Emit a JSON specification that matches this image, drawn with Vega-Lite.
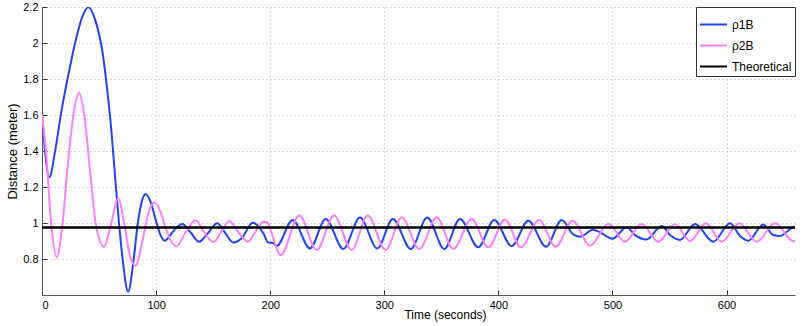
{
  "$schema": "https://vega.github.io/schema/vega-lite/v6.json",
  "width": 753,
  "height": 288,
  "autosize": {"type": "none"},
  "padding": {"left": 42, "top": 7, "right": 15, "bottom": 31},
  "background": "white",
  "config": {
    "font": "Liberation Sans",
    "view": {"stroke": null},
    "axis": {
      "domainColor": "#555555",
      "domainWidth": 1,
      "tickColor": "#333333",
      "tickSize": -5,
      "labelFont": "Liberation Sans",
      "labelFontSize": 11,
      "labelColor": "#000000",
      "titleFont": "Liberation Sans",
      "titleFontWeight": "normal",
      "titleColor": "#000000",
      "gridColor": "#b4b4b4",
      "gridDash": [1, 3],
      "gridWidth": 1
    },
    "legend": {
      "strokeColor": "#333333",
      "fillColor": "white",
      "padding": 3,
      "rowPadding": -7,
      "labelFont": "Liberation Sans",
      "labelFontSize": 12,
      "labelColor": "#000000",
      "labelOffset": 4,
      "symbolType": "stroke",
      "symbolSize": 729,
      "symbolStrokeWidth": 2
    }
  },
  "datasets": {
    "curves": [
      {"t": 0, "d": 1.611, "s": "ρ1B"},
      {"t": 6.4, "d": 1.254, "s": "ρ1B"},
      {"t": 11.5, "d": 1.4, "s": "ρ1B"},
      {"t": 17, "d": 1.62, "s": "ρ1B"},
      {"t": 23, "d": 1.82, "s": "ρ1B"},
      {"t": 29, "d": 2.0, "s": "ρ1B"},
      {"t": 35, "d": 2.14, "s": "ρ1B"},
      {"t": 40.6, "d": 2.198, "s": "ρ1B"},
      {"t": 47, "d": 2.12, "s": "ρ1B"},
      {"t": 53, "d": 1.95, "s": "ρ1B"},
      {"t": 57, "d": 1.75, "s": "ρ1B"},
      {"t": 61, "d": 1.5, "s": "ρ1B"},
      {"t": 64.5, "d": 1.22, "s": "ρ1B"},
      {"t": 67.5, "d": 1.0, "s": "ρ1B"},
      {"t": 71, "d": 0.78, "s": "ρ1B"},
      {"t": 75.5, "d": 0.618, "s": "ρ1B"},
      {"t": 80, "d": 0.78, "s": "ρ1B"},
      {"t": 84, "d": 1.0, "s": "ρ1B"},
      {"t": 87.5, "d": 1.12, "s": "ρ1B"},
      {"t": 90.9, "d": 1.161, "s": "ρ1B"},
      {"t": 95, "d": 1.12, "s": "ρ1B"},
      {"t": 100, "d": 1.01, "s": "ρ1B"},
      {"t": 104, "d": 0.93, "s": "ρ1B"},
      {"t": 107.8, "d": 0.902, "s": "ρ1B"},
      {"t": 113.7, "d": 0.944, "s": "ρ1B"},
      {"t": 118, "d": 0.975, "s": "ρ1B"},
      {"t": 123, "d": 0.995, "s": "ρ1B"},
      {"t": 130, "d": 0.95, "s": "ρ1B"},
      {"t": 137.6, "d": 0.896, "s": "ρ1B"},
      {"t": 145, "d": 0.94, "s": "ρ1B"},
      {"t": 153.7, "d": 0.998, "s": "ρ1B"},
      {"t": 160, "d": 0.95, "s": "ρ1B"},
      {"t": 167.7, "d": 0.891, "s": "ρ1B"},
      {"t": 175, "d": 0.915, "s": "ρ1B"},
      {"t": 184.7, "d": 1.002, "s": "ρ1B"},
      {"t": 194, "d": 0.943, "s": "ρ1B"},
      {"t": 198.4, "d": 0.891, "s": "ρ1B"},
      {"t": 202, "d": 0.89, "s": "ρ1B"},
      {"t": 205.7, "d": 0.872, "s": "ρ1B"},
      {"t": 219.7, "d": 1.017, "s": "ρ1B"},
      {"t": 234.9, "d": 0.859, "s": "ρ1B"},
      {"t": 248.7, "d": 1.022, "s": "ρ1B"},
      {"t": 264.1, "d": 0.856, "s": "ρ1B"},
      {"t": 278.7, "d": 1.03, "s": "ρ1B"},
      {"t": 293.9, "d": 0.859, "s": "ρ1B"},
      {"t": 307.5, "d": 1.022, "s": "ρ1B"},
      {"t": 323.2, "d": 0.856, "s": "ρ1B"},
      {"t": 337.7, "d": 1.03, "s": "ρ1B"},
      {"t": 352.6, "d": 0.856, "s": "ρ1B"},
      {"t": 366.4, "d": 1.022, "s": "ρ1B"},
      {"t": 382.4, "d": 0.865, "s": "ρ1B"},
      {"t": 396.4, "d": 1.017, "s": "ρ1B"},
      {"t": 411.7, "d": 0.872, "s": "ρ1B"},
      {"t": 426.3, "d": 1.013, "s": "ρ1B"},
      {"t": 441.8, "d": 0.868, "s": "ρ1B"},
      {"t": 455.5, "d": 1.017, "s": "ρ1B"},
      {"t": 465.7, "d": 0.937, "s": "ρ1B"},
      {"t": 471.6, "d": 0.924, "s": "ρ1B"},
      {"t": 483, "d": 0.962, "s": "ρ1B"},
      {"t": 489, "d": 0.948, "s": "ρ1B"},
      {"t": 500, "d": 0.913, "s": "ρ1B"},
      {"t": 512.5, "d": 0.976, "s": "ρ1B"},
      {"t": 519.8, "d": 0.933, "s": "ρ1B"},
      {"t": 530, "d": 0.909, "s": "ρ1B"},
      {"t": 543.2, "d": 0.983, "s": "ρ1B"},
      {"t": 550.4, "d": 0.933, "s": "ρ1B"},
      {"t": 559.2, "d": 0.906, "s": "ρ1B"},
      {"t": 572.4, "d": 0.994, "s": "ρ1B"},
      {"t": 588.4, "d": 0.896, "s": "ρ1B"},
      {"t": 603, "d": 0.998, "s": "ρ1B"},
      {"t": 611.8, "d": 0.928, "s": "ρ1B"},
      {"t": 619.1, "d": 0.902, "s": "ρ1B"},
      {"t": 632.2, "d": 0.992, "s": "ρ1B"},
      {"t": 641, "d": 0.933, "s": "ρ1B"},
      {"t": 646.9, "d": 0.928, "s": "ρ1B"},
      {"t": 658.5, "d": 0.976, "s": "ρ1B"},
      {"t": 660, "d": 0.977, "s": "ρ1B"},
      {"t": 0, "d": 1.6, "s": "ρ2B"},
      {"t": 3.5, "d": 1.4, "s": "ρ2B"},
      {"t": 8, "d": 1.0, "s": "ρ2B"},
      {"t": 12.9, "d": 0.809, "s": "ρ2B"},
      {"t": 18, "d": 1.0, "s": "ρ2B"},
      {"t": 23, "d": 1.35, "s": "ρ2B"},
      {"t": 28, "d": 1.62, "s": "ρ2B"},
      {"t": 32.4, "d": 1.724, "s": "ρ2B"},
      {"t": 37, "d": 1.6, "s": "ρ2B"},
      {"t": 42, "d": 1.3, "s": "ρ2B"},
      {"t": 47, "d": 1.0, "s": "ρ2B"},
      {"t": 54.3, "d": 0.868, "s": "ρ2B"},
      {"t": 60, "d": 0.98, "s": "ρ2B"},
      {"t": 66.9, "d": 1.137, "s": "ρ2B"},
      {"t": 72, "d": 1.0, "s": "ρ2B"},
      {"t": 77, "d": 0.82, "s": "ρ2B"},
      {"t": 82.1, "d": 0.763, "s": "ρ2B"},
      {"t": 88, "d": 0.9, "s": "ρ2B"},
      {"t": 93, "d": 1.05, "s": "ρ2B"},
      {"t": 98.4, "d": 1.115, "s": "ρ2B"},
      {"t": 104, "d": 1.06, "s": "ρ2B"},
      {"t": 108, "d": 0.98, "s": "ρ2B"},
      {"t": 113, "d": 0.9, "s": "ρ2B"},
      {"t": 118, "d": 0.872, "s": "ρ2B"},
      {"t": 126, "d": 0.95, "s": "ρ2B"},
      {"t": 134.8, "d": 1.015, "s": "ρ2B"},
      {"t": 142, "d": 0.95, "s": "ρ2B"},
      {"t": 150.2, "d": 0.893, "s": "ρ2B"},
      {"t": 157, "d": 0.95, "s": "ρ2B"},
      {"t": 164.2, "d": 1.011, "s": "ρ2B"},
      {"t": 172, "d": 0.95, "s": "ρ2B"},
      {"t": 180.3, "d": 0.896, "s": "ρ2B"},
      {"t": 187, "d": 0.95, "s": "ρ2B"},
      {"t": 194, "d": 1.007, "s": "ρ2B"},
      {"t": 198, "d": 1.0, "s": "ρ2B"},
      {"t": 201, "d": 0.95, "s": "ρ2B"},
      {"t": 209.2, "d": 0.822, "s": "ρ2B"},
      {"t": 225.5, "d": 1.041, "s": "ρ2B"},
      {"t": 240.8, "d": 0.85, "s": "ρ2B"},
      {"t": 256, "d": 1.041, "s": "ρ2B"},
      {"t": 271.4, "d": 0.85, "s": "ρ2B"},
      {"t": 285.5, "d": 1.041, "s": "ρ2B"},
      {"t": 301.2, "d": 0.85, "s": "ρ2B"},
      {"t": 315.3, "d": 1.03, "s": "ρ2B"},
      {"t": 330.7, "d": 0.856, "s": "ρ2B"},
      {"t": 345.9, "d": 1.03, "s": "ρ2B"},
      {"t": 360.5, "d": 0.856, "s": "ρ2B"},
      {"t": 376.6, "d": 1.022, "s": "ρ2B"},
      {"t": 391.2, "d": 0.865, "s": "ρ2B"},
      {"t": 405.8, "d": 1.02, "s": "ρ2B"},
      {"t": 419.8, "d": 0.865, "s": "ρ2B"},
      {"t": 435.6, "d": 1.017, "s": "ρ2B"},
      {"t": 450.3, "d": 0.868, "s": "ρ2B"},
      {"t": 465.1, "d": 1.013, "s": "ρ2B"},
      {"t": 480.3, "d": 0.874, "s": "ρ2B"},
      {"t": 496.4, "d": 0.996, "s": "ρ2B"},
      {"t": 511, "d": 0.896, "s": "ρ2B"},
      {"t": 525.6, "d": 0.994, "s": "ρ2B"},
      {"t": 540.2, "d": 0.896, "s": "ρ2B"},
      {"t": 554.8, "d": 0.994, "s": "ρ2B"},
      {"t": 568, "d": 0.9, "s": "ρ2B"},
      {"t": 582, "d": 0.998, "s": "ρ2B"},
      {"t": 595.8, "d": 0.896, "s": "ρ2B"},
      {"t": 611.2, "d": 0.998, "s": "ρ2B"},
      {"t": 626.4, "d": 0.896, "s": "ρ2B"},
      {"t": 642.5, "d": 0.998, "s": "ρ2B"},
      {"t": 658.5, "d": 0.9, "s": "ρ2B"},
      {"t": 660, "d": 0.9, "s": "ρ2B"}
    ],
    "theory": [
      {"t": 0, "d": 0.975, "s": "Theoretical"},
      {"t": 660, "d": 0.975, "s": "Theoretical"}
    ]
  },
  "layer": [
    {
      "data": {"name": "curves"},
      "mark": {"type": "line", "interpolate": "monotone", "strokeWidth": 2, "clip": true},
      "encoding": {
        "x": {
          "field": "t", "type": "quantitative",
          "scale": {"domain": [0, 660], "nice": false},
          "axis": {
            "values": [0, 100, 200, 300, 400, 500, 600],
            "title": "Time (seconds)",
            "titleFontSize": 12,
            "titleX": 403,
            "titleY": 23,
            "titleBaseline": "alphabetic",
            "titleAlign": "center",
            "labelPadding": 9,
            "grid": true
          }
        },
        "y": {
          "field": "d", "type": "quantitative",
          "scale": {"domain": [0.6, 2.2], "nice": false, "zero": false},
          "axis": {
            "values": [0.8, 1, 1.2, 1.4, 1.6, 1.8, 2, 2.2],
            "format": "~g",
            "title": "Distance (meter)",
            "titleFontSize": 13,
            "titleAngle": -90,
            "titleX": -30,
            "titleY": 144,
            "titleBaseline": "middle",
            "titleAlign": "center",
            "labelPadding": 9,
            "grid": true
          }
        },
        "color": {
          "field": "s", "type": "nominal",
          "scale": {"domain": ["ρ1B", "ρ2B", "Theoretical"], "range": ["#2343f5", "#ff80ff", "#000000"]},
          "legend": {"title": null, "orient": "top-right", "offset": 0}
        }
      }
    },
    {
      "data": {"name": "theory"},
      "mark": {"type": "line", "strokeWidth": 2.5},
      "encoding": {
        "x": {"field": "t", "type": "quantitative"},
        "y": {"field": "d", "type": "quantitative"},
        "color": {"field": "s", "type": "nominal"}
      }
    }
  ]
}
